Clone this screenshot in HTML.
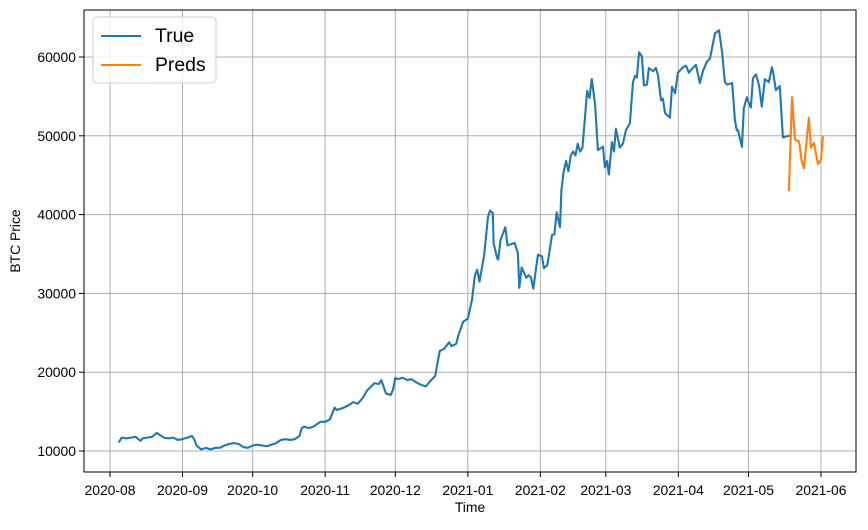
<!DOCTYPE html>
<html><head><meta charset="utf-8"><style>
body{margin:0;background:#fff;width:868px;height:525px;overflow:hidden}
svg text{font-family:"Liberation Sans","DejaVu Sans",sans-serif;fill:#000}
</style></head><body>
<svg id="chart" width="868" height="525"></svg>
<script>
const xTickLabels=["2020-08","2020-09","2020-10","2020-11","2020-12","2021-01","2021-02","2021-03","2021-04","2021-05","2021-06"];
const xTickDays=[0,31,61,92,122,153,184,212,243,273,304];
const yTickValues=[10000,20000,30000,40000,50000,60000];
const trueDays=[4,5,7,9,11,13,14,16,18,20,22,23,25,27,29,31,33,35,36,37,39,41,43,45,47,49,51,53,55,57,59,61,63,65,67,69,71,73,75,77,79,81,82,83,85,87,89,90,92,94,96,97,100,102,104,106,108,110,112,113,115,116,118,120,121,122,123,125,127,129,131,133,135,137,138,139,141,143,145,146,148,149,151,153,154.8,156,157,158,160,161.6,162.5,163.7,164,165.5,166,167,169,170,172,173,174.4,175,176,178,179,180,181,182.5,183,184.7,185.5,187,189,190,191,192.4,193,194,195,196,197,198,199,200,201,202,203,204,205,206,207.4,208.6,210.8,211.6,212.5,213.3,214.6,215.5,216.3,218,219.3,220.6,222.3,223.6,224.5,225.3,226.2,227.4,228.3,229.6,230.4,232.2,233.4,234.3,235.6,236.4,237.3,239.4,240.3,241.6,242.8,245,246.3,247.5,248.8,250.5,252.2,253.5,255.2,256.5,258.7,260.4,261.7,262.9,263.8,266,267.2,268,268.5,270.2,271,272.3,272.8,274,274.9,276.2,277.5,278.7,280,281.7,283,283.5,284.7,286.4,287.7,290.3];
const trueValues=[11200,11700,11600,11700,11800,11300,11600,11700,11800,12300,11900,11700,11600,11700,11400,11500,11700,11900,11500,10700,10200,10400,10200,10400,10400,10700,10900,11000,10900,10500,10400,10700,10800,10700,10600,10800,11000,11400,11500,11400,11500,11900,12900,13100,12900,13100,13500,13700,13700,14000,15500,15200,15500,15800,16200,16000,16700,17700,18300,18600,18500,19000,17300,17100,17800,19300,19100,19300,19000,19100,18700,18400,18200,18900,19200,19500,22700,23000,23800,23300,23600,24700,26400,26800,29200,32300,33000,31500,34900,39700,40500,40200,36400,34500,34300,36800,38400,36100,36300,36400,35100,30700,33300,32000,32300,32000,30600,33900,34900,34700,33200,33600,37400,37500,40300,38400,43100,45500,46800,45500,47500,48000,47500,49000,48000,48500,52000,55700,54800,57200,54000,48200,48600,46000,46800,45100,49200,48000,50900,48500,49000,50700,51600,56800,57600,57400,60600,60100,56400,56500,58600,58200,58600,57700,54500,54700,52900,52300,56200,55400,58000,58700,58900,58000,58500,59000,56700,58200,59400,59800,63000,63400,60600,56800,56500,56700,52000,50700,50700,48600,53500,54900,54400,53600,57300,57800,56400,53700,57200,56800,58700,58100,55800,56300,49800,50000,43100];
const predDays=[290.3,291.6,292.9,294.6,295.8,296.7,298.8,299.7,301,302.7,304,304.8];
const predValues=[43100,54900,49500,49300,46700,45900,52300,48500,49100,46400,47000,49800];

const svg=document.getElementById('chart');
const NS='http://www.w3.org/2000/svg';
const L=84,R=856,T=10,B=472;
const xS=d=>110+d*(821-110)/304;
const yS=v=>451-(v-10000)*(451-57)/50000;
function mk(tag,attrs,parent){const e=document.createElementNS(NS,tag);for(const k in attrs)e.setAttribute(k,attrs[k]);(parent||svg).appendChild(e);return e;}

xTickDays.forEach((d,i)=>{const x=xS(d);
 const g=mk('line',{x1:x,x2:x,y1:T,y2:B,stroke:'#b0b0b0','stroke-width':1});
 
 
 mk('line',{x1:x,x2:x,y1:B,y2:B+5,stroke:'#000'});
 const t=mk('text',{x:x,y:B+23,'text-anchor':'middle','font-size':13.9});t.textContent=xTickLabels[i];
 
 
});
yTickValues.forEach(v=>{const y=yS(v);
 const g=mk('line',{x1:L,x2:R,y1:y,y2:y,stroke:'#b0b0b0','stroke-width':1});
 
 
 mk('line',{x1:L-5,x2:L,y1:y,y2:y,stroke:'#000'});
 const t=mk('text',{x:L-8,y:y+5,'text-anchor':'end','font-size':13.9});t.textContent=v;
 
 
});
function line(days,vals,color,name){
 const p=mk('polyline',{points:days.map((d,i)=>xS(d)+','+yS(vals[i])).join(' '),fill:'none',stroke:color,'stroke-width':2.1,'stroke-linejoin':'round','stroke-linecap':'square'});
 
 
}
line(trueDays,trueValues,'#1f77b4','true-series-line');
line(predDays,predValues,'#ff7f0e','preds-series-line');
const frame=mk('rect',{x:L,y:T,width:R-L,height:B-T,fill:'none',stroke:'#000','stroke-width':1});


const xt=mk('text',{x:(L+R)/2,y:512,'text-anchor':'middle','font-size':13.9});xt.textContent='Time';


const yt=mk('text',{x:0,y:0,'text-anchor':'middle','font-size':13.9,transform:'translate(20,241) rotate(-90)'});yt.textContent='BTC Price';


const lg=mk('g',{});


mk('rect',{x:93,y:17,width:123,height:66,rx:4,fill:'#fff','fill-opacity':0.8,stroke:'#ccc'},lg);
mk('line',{x1:101,x2:141,y1:36,y2:36,stroke:'#1f77b4','stroke-width':2.1},lg);
mk('line',{x1:101,x2:141,y1:65,y2:65,stroke:'#ff7f0e','stroke-width':2.1},lg);
const l1=mk('text',{x:155,y:42,'font-size':19.4},lg);l1.textContent='True';


const l2=mk('text',{x:155,y:71,'font-size':19.4},lg);l2.textContent='Preds';


</script>
</body></html>
